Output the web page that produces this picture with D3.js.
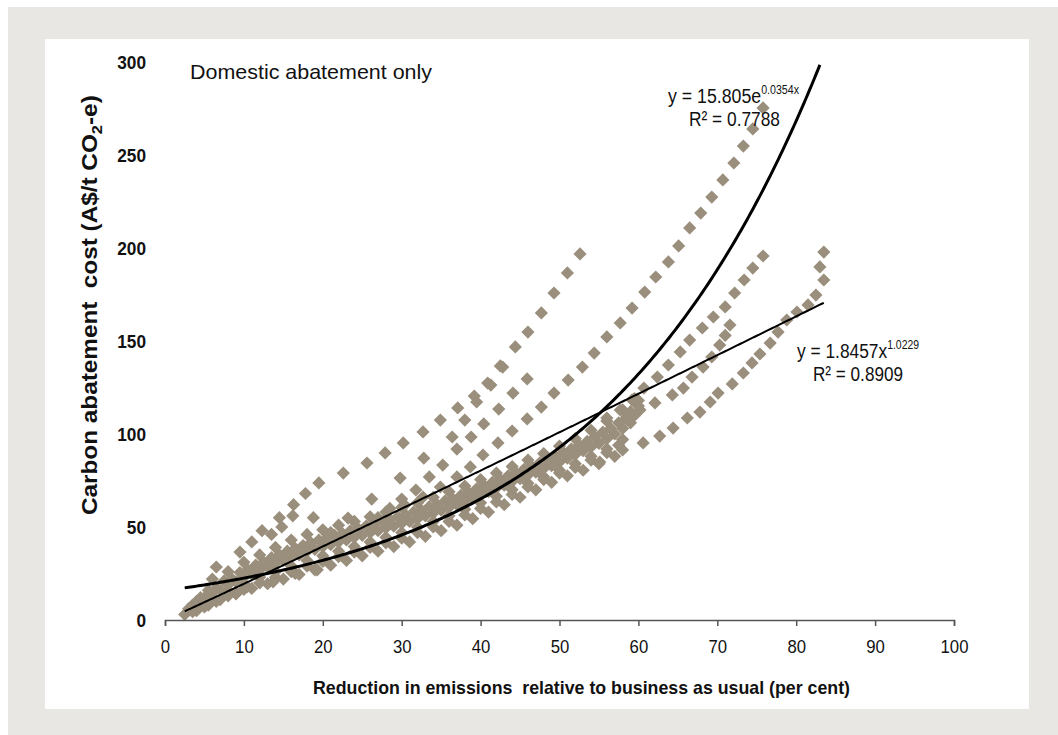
<html>
  <head>
    <meta charset="UTF-8">
    <style>
      body { margin: 0; background: #fff; }
      text { font-family: "Liberation Sans Narrow", "Arial Narrow", "Liberation Sans", Arial, sans-serif; fill: #111; }
    </style>
  </head>
  <body>
    <script src="https://d3js.org/d3.v7.min.js"></script>
    <script>

var width = 1058;
var height = 735;

// tick labels
var xTicks = [0, 10, 20, 30, 40, 50, 60, 70, 80, 90, 100];
var yTicks = [0, 50, 100, 150, 200, 250, 300];

// trend line coefficients (as printed on the chart)
var expA = 15.805, expB = 0.0354;
var powA = 1.8457, powB = 1.0229;
var trendStart = 2.5, trendEnd = 83.7;

// scenario points [reduction %, cost]
var band1 = [[2.5,3],[4,5],[5.5,8],[7,11],[9,14],[11,17],[13,19.5],[15,22],[17,24.5],[19,27],[21,29.5],[23,32],[25,34.5],[27,37],[29,39.5],[31,42],[33,45],[35,48],[37,51],[39,54.5],[41,58],[43,62],[45,66],[47,70],[49,74],[51,77.5],[53,80.5],[55,84],[57,88]];
var band2 = [[3,6],[4.5,9],[6,12],[8,16],[10,19.5],[12,23],[14,26],[16,29],[18,32],[20,34.5],[22,37],[24,39.5],[26,42],[28,44.5],[30,47],[32,50],[34,53],[36,56],[38,59.5],[40,63],[42,66.5],[44,70],[46,73.5],[48,77],[50,80.5],[52,84],[54,88],[56,92],[58,97]];
var band3 = [[3.5,8],[5,12],[7,16],[9,20.5],[11,25],[13,28.5],[15,32],[17,35],[19,38],[21,40.5],[23,43],[25,45.5],[27,48],[29,50.5],[31,53],[33,56],[35,59],[37,62],[39,65.5],[41,69],[43,72.5],[45,76],[47,79.5],[49,83],[51,87],[53,91],[55,95],[57,100],[59,106]];
var band4 = [[4.5,12],[6.5,17],[8.5,22],[10.5,27],[12.5,31],[14.5,35],[16.5,38.5],[18.5,41.5],[20.5,44],[22.5,46.5],[24.5,49],[26.5,51.5],[28.5,54],[30.5,56.5],[32.5,59],[34.5,62],[36.5,65],[38.5,68.5],[40.5,72],[42.5,75.5],[44.5,79],[46.5,82.5],[48.5,86],[50.5,90],[52.5,94],[54.5,98.5],[56.5,103],[58.5,109],[60,115]];
var band5 = [[6,22],[8,26],[10,31],[12,35],[14,39],[16,43],[18,46],[20,48.5],[22,51],[24,53],[26,55.5],[28,58],[30,60.5],[32,63],[34,66],[36,69],[38,72],[40,75.5],[42,79],[44,82.5],[46,86],[48,89.5],[50,93.5],[52,97.5],[54,102],[56,107],[58,113],[59.5,119]];
var band6 = [[3.5,4.5],[5,7],[6.5,10],[8,13],[10,16.5],[12,20],[14,23],[16,26],[18,29],[20,31.5],[22,34],[24,36.5],[26,39],[28,41.5],[30,44],[32,47],[34,50],[36,53],[38,56.5],[40,60],[42,63.5],[44,67.5],[46,71.5],[48,75.5],[50,79],[52,82],[54,86],[56,90],[57.5,94]];
var band7 = [[4,10],[6,14.5],[8,19],[10,23],[12,27],[14,30.5],[16,34],[18,37],[20,39.5],[22,42],[24,44.5],[26,47],[28,49.5],[30,52],[32,54.5],[34,57.5],[36,60.5],[38,64],[40,67.5],[42,71],[44,74.5],[46,78],[48,81.5],[50,85],[52,89],[54,93],[56,97.5],[58,103],[59.5,110]];
var band8 = [[5.5,16],[7.5,21],[9.5,25.5],[11.5,29.5],[13.5,33.5],[15.5,37],[17.5,40],[19.5,43],[21.5,45.5],[23.5,48],[25.5,50.5],[27.5,53],[29.5,55.5],[31.5,58],[33.5,61],[35.5,64],[37.5,67],[39.5,70.5],[41.5,74],[43.5,77.5],[45.5,81],[47.5,84.5],[49.5,88],[51.5,92],[53.5,96],[55.5,101],[57.5,106],[59,112],[60,118]];
var scatterLow = [[6.5,28.5],[9.5,36.5],[11,42],[13.5,46],[14.8,50],[16.2,56],[18.8,55],[21,47],[9,14.5],[10.4,17.8],[13.7,20.5],[16.5,25],[19.3,27]];
var pathT1 = [[12.3,48],[14.5,55],[16.3,62],[17.8,68],[19.5,73.7],[22.6,79],[25.6,84.4],[27.9,89.8],[30.2,95.2],[32.7,101.1],[34.9,107.5],[37.1,114],[39.2,120.4],[40.9,127.4],[42.5,136.6],[44.4,146.8],[46,154.8],[47.7,165.1],[49.3,175.8],[51,186.6],[52.6,196.8]];
var pathM4 = [[23.2,54.8],[26.2,65],[29.8,76.3],[32.8,87],[36.4,98.4],[38,107.5],[39.5,117.2],[41.3,126.3],[42.8,136]];
var pathM1 = [[27,55],[28.5,60],[30,65],[31.8,69.9],[33.5,76.9],[35.2,83.3],[37,91.9],[38.8,98.4],[40.4,105.4],[42.3,113.4],[44.1,122],[45.9,129.6]];
var pathT2 = [[30.4,61.8],[32.7,66.1],[34.9,71.5],[37,76.9],[38.7,82.3],[40.3,88.7],[42.2,95.2],[44,101.6],[45.9,108.1],[47.7,114.5],[49.3,122],[51.1,129],[52.9,136],[54.4,143.5],[56,152.2],[57.7,159.7],[59.2,167.7],[60.8,176.3],[62.2,184.4],[63.8,192.5],[65.1,201.1],[66.5,210.8],[67.9,218.8],[69.3,227.4],[70.7,236.6],[72.1,245.7],[73.3,254.8],[74.5,264],[75.8,275.3]];
var pathT3 = [[56,108.6],[57.7,112.9],[59.2,118.3],[60.7,124.7],[62.4,130.6],[63.8,137.1],[65.3,144.1],[66.5,150.5],[68.1,157],[69.5,162.9],[71,168.3],[72.2,175.8],[73.4,182.8],[74.5,189.2],[75.8,195.7]];
var pathT3b = [[58.5,108],[60.2,112.9],[62.1,116.7],[64.3,121],[65.7,124.7],[66.8,130.6],[68.2,136],[69.3,141.4],[70.3,147.8],[71,153],[71.6,158.6]];
var pathT5 = [[55.1,84.9],[58,91.4],[60.6,95.2],[62.7,98.9],[64.4,103.2],[66.2,108.6],[67.8,111.8],[69.1,117.2],[70.1,122],[71.9,126.9],[73.3,132.8],[74.4,138.2],[75.4,143],[76.7,148.9],[77.7,154.8],[78.8,161.3],[80.1,165.6],[81.5,169.4],[82.5,174.7],[83.5,182.8],[83,189.8],[83.5,197.8]];

var allPaths = [band1, band2, band3, band4, band5, band6, band7, band8, scatterLow, pathT1, pathM4, pathM1, pathT2, pathT3, pathT3b, pathT5];
var points = [].concat.apply([], allPaths);

var svg = d3.select("body").append("svg")
    .attr("width", width).attr("height", height);

// background panels
svg.append("rect").attr("x", 8).attr("y", 7).attr("width", width - 8).attr("height", height - 7)
    .style("fill", "#e8e7e4");
svg.append("rect").attr("x", 45).attr("y", 39).attr("width", 984).attr("height", 670)
    .style("fill", "#fff");

var x = d3.scaleLinear().domain([0, 100]).range([165, 954]);
var y = d3.scaleLinear().domain([0, 300]).range([620, 62]);

// diamonds
svg.append("g").selectAll("path")
    .data(points)
    .enter().append("path")
    .attr("d", "M0,-6.6L6.6,0L0,6.6L-6.6,0Z")
    .attr("transform", function(d) { return "translate(" + x(d[0]) + "," + y(d[1]) + ")"; })
    .style("fill", "#9a8e7c");

// trend lines
var trendX = d3.range(trendStart, trendEnd + 0.01, 0.25);
var expLine = d3.line()
    .x(function(d) { return x(d); })
    .y(function(d) { return y(Math.min(300, expA * Math.exp(expB * d))); });
var powLine = d3.line()
    .x(function(d) { return x(d); })
    .y(function(d) { return y(powA * Math.pow(d, powB)); });

svg.append("path")
    .attr("d", expLine(trendX.filter(function(d) { return expA * Math.exp(expB * d) <= 301; })))
    .style("fill", "none").style("stroke", "#000").style("stroke-width", 3);
svg.append("path")
    .attr("d", powLine(trendX))
    .style("fill", "none").style("stroke", "#000").style("stroke-width", 2);

// x axis
var xAxis = svg.append("g")
    .attr("transform", "translate(0,620)")
    .call(d3.axisBottom(x).tickValues(xTicks).tickSize(6).tickSizeOuter(6).tickPadding(14));
xAxis.selectAll("path, line").style("stroke", "#555").style("stroke-width", 1.5);
xAxis.selectAll("text").style("font-size", "19px").style("font-family", null).attr("fill", "#111")
    .attr("textLength", function(d) { return String(d).length * 9.3; })
    .attr("lengthAdjust", "spacingAndGlyphs");

// y axis (labels only)
var yAxis = svg.append("g")
    .attr("transform", "translate(165,0)")
    .call(d3.axisLeft(y).tickValues(yTicks).tickSize(0).tickPadding(19));
yAxis.select(".domain").remove();
yAxis.selectAll("text").style("font-size", "19px").style("font-weight", "bold").style("font-family", null).attr("fill", "#111")
    .attr("textLength", function(d) { return String(d).length * 9.6; })
    .attr("lengthAdjust", "spacingAndGlyphs");

// axis titles
svg.append("text")
    .attr("x", 313).attr("y", 694)
    .attr("textLength", 537).attr("lengthAdjust", "spacingAndGlyphs")
    .style("font-size", "19px").style("font-weight", "bold")
    .attr("xml:space", "preserve")
    .text("Reduction in emissions  relative to business as usual (per cent)");

// y title: measured, then stretched to the reference length
var yTitleG = svg.append("g").attr("transform", "translate(97,515) rotate(-90)");
var yTitleInner = yTitleG.append("g");
var yTitle = yTitleInner.append("text")
    .style("font-size", "22px").style("font-weight", "bold")
    .attr("xml:space", "preserve");
yTitle.append("tspan").text("Carbon abatement  cost (A$/t CO");
yTitle.append("tspan").attr("dy", 5).style("font-size", "15px").text("2");
yTitle.append("tspan").attr("dy", -5).text("-e)");
var yTitleW = yTitle.node().getComputedTextLength();
yTitleInner.attr("transform", "scale(" + (420 / yTitleW) + ",1)");

// panel label
svg.append("text")
    .attr("x", 190).attr("y", 79)
    .attr("textLength", 242).attr("lengthAdjust", "spacingAndGlyphs")
    .style("font-size", "21px")
    .text("Domestic abatement only");

// equations
function equation(px, py, len, base, sup) {
    var t = svg.append("text").attr("x", px).attr("y", py)
        .attr("textLength", len).attr("lengthAdjust", "spacingAndGlyphs")
        .style("font-size", "20px");
    t.append("tspan").text(base);
    if (sup) t.append("tspan").attr("dy", -9).style("font-size", "12px").text(sup);
}
equation(668, 103, 131, "y = 15.805e", "0.0354x");
equation(689, 126, 91, "R² = 0.7788");
equation(797, 358, 122, "y = 1.8457x", "1.0229");
equation(813, 381, 90, "R² = 0.8909");

    </script>
  </body>
</html>
